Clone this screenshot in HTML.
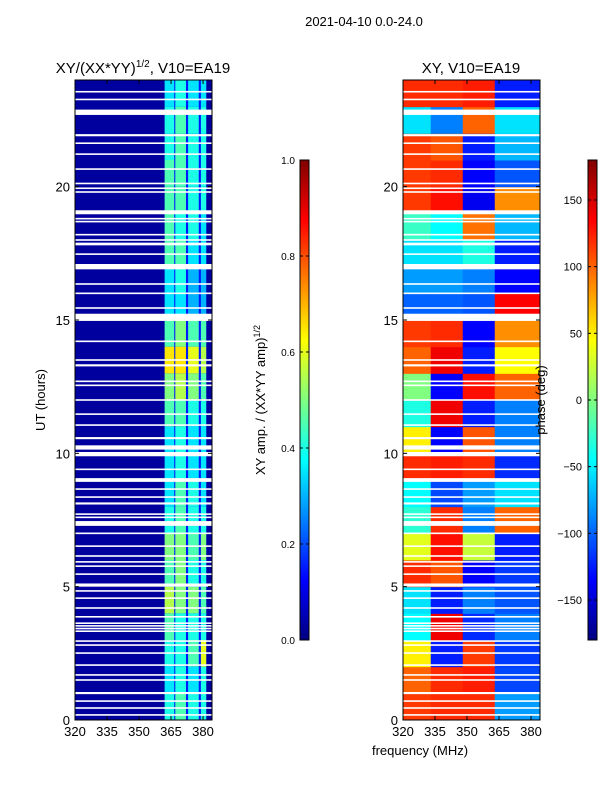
<!DOCTYPE html>
<html><head><meta charset="utf-8">
<style>
body{margin:0;background:#fff;width:600px;height:800px;overflow:hidden;font-family:"Liberation Sans",sans-serif}
svg text{font-family:"Liberation Sans",sans-serif;fill:#000}
</style></head>
<body>
<svg id="fig" width="600" height="800" xmlns="http://www.w3.org/2000/svg">
<text x="364" y="26" font-size="13" text-anchor="middle">2021-04-10 0.0-24.0</text>
<text x="143" y="73" font-size="15" text-anchor="middle">XY/(XX*YY)<tspan font-size="10" dy="-6">1/2</tspan><tspan dy="6">, V10=EA19</tspan></text>
<text x="471" y="73" font-size="15" text-anchor="middle">XY, V10=EA19</text>
<text x="0" y="0" font-size="13" text-anchor="middle" transform="translate(45,400) rotate(-90)">UT (hours)</text>
<text x="420" y="755" font-size="13" text-anchor="middle">frequency (MHz)</text>
<text x="0" y="0" font-size="13" text-anchor="middle" transform="translate(265,400) rotate(-90)">XY amp. / (XX*YY amp)<tspan font-size="9" dy="-5">1/2</tspan></text>
<g id="left"></g>
<g id="right"></g>
<text x="0" y="0" font-size="13" text-anchor="middle" transform="translate(545,400) rotate(-90)">phase (deg)</text>
<g id="axes"></g>
</svg>
<script>
// hour-band data (row i = hours i..i+1)
const hours = [0,1,2,3,4,5,6,7,8,9,10,11,12,13,14,15,16,17,18,19,20,21,22,23];
const phaseBands = [[320,333],[333,348],[348,363],[363,384]];
const phase = [
 [115,120,120,-80],[100,120,125,-110],[50,-125,115,-115],[-45,140,-120,-90],
 [-55,-125,-90,-105],[120,105,-135,-115],[35,130,25,-125],[-30,120,-90,100],
 [-45,-110,-80,-55],[120,125,120,-120],[50,-135,105,-90],[-35,140,-125,-90],
 [0,-135,130,100],[100,140,-125,45],[115,120,-135,85],[-100,-100,-105,135],
 [-80,-80,-90,-135],[-55,-55,-35,-125],[-25,-45,95,-70],[115,130,-140,85],
 [115,120,-135,-105],[115,105,-125,-70],[-55,-90,100,-55],[120,120,125,-125]];
const ampBands = [[320,362],[362,366.5],[367,372],[373,378],[379,381.5]];
const bright = [
 [0.4,0.45,0.4,0.4],[0.35,0.4,0.35,0.4],[0.4,0.4,0.45,0.6],[0.45,0.4,0.4,0.4],
 [0.55,0.5,0.5,0.45],[0.45,0.5,0.4,0.4],[0.5,0.5,0.45,0.5],[0.4,0.45,0.4,0.4],
 [0.35,0.45,0.4,0.35],[0.35,0.4,0.35,0.35],[0.35,0.4,0.35,0.35],[0.45,0.45,0.4,0.4],
 [0.5,0.55,0.5,0.45],[0.65,0.65,0.6,0.55],[0.45,0.5,0.45,0.45],[0.35,0.35,0.3,0.3],
 [0.35,0.4,0.3,0.3],[0.45,0.45,0.35,0.35],[0.45,0.4,0.4,0.35],[0.45,0.45,0.4,0.4],
 [0.45,0.45,0.4,0.4],[0.4,0.45,0.4,0.4],[0.4,0.45,0.4,0.4],[0.35,0.4,0.35,0.35]];
const ampBg = 0.03;
const ampSep = 0.15;
const gapHours = [0.19,0.45,0.71,1.01,1.5,1.69,2.06,2.51,2.81,2.96,3.33,3.43,3.53,3.63,3.87,4.2,4.57,4.84,5.06,5.47,5.77,5.93,6.15,6.52,7.0,7.37,7.6,7.72,8.12,8.36,8.66,9.0,9.4,9.97,10.22,10.57,11.06,11.47,12.0,12.55,12.7,13.3,13.5,14.2,15.1,15.45,16.0,16.35,17.0,17.47,17.85,18.0,18.2,18.69,18.8,19.04,19.8,19.94,20.12,20.66,21.22,21.63,21.93,22.79,23.27,23.56];
const gapWidths = [0.06,0.06,0.06,0.08,0.06,0.06,0.06,0.06,0.06,0.06,0.06,0.06,0.06,0.06,0.06,0.06,0.06,0.06,0.12,0.06,0.06,0.06,0.06,0.06,0.06,0.18,0.06,0.06,0.08,0.06,0.06,0.14,0.06,0.16,0.16,0.08,0.06,0.06,0.06,0.06,0.06,0.08,0.06,0.06,0.27,0.06,0.06,0.06,0.2,0.06,0.1,0.06,0.06,0.06,0.06,0.15,0.06,0.06,0.06,0.06,0.06,0.06,0.08,0.2,0.06,0.06];
const xTicks = [320,335,350,365,380];
const yTicks = [0,5,10,15,20];
const ampTicks = [0.0,0.2,0.4,0.6,0.8,1.0];
const phaseTicks = [150,100,50,0,-50,-100,-150];

const NS='http://www.w3.org/2000/svg';
const PT=80,PB=720,FMIN=320,FMAX=384.2;
function yS(h){return PB-(h/24)*(PB-PT);}
function xS(x0,f){return x0+(f-FMIN)/(FMAX-FMIN)*137;}
function jet(v){v=Math.max(0,Math.min(1,v));
 const r=Math.max(0,Math.min(1,1.5-Math.abs(4*v-3))),g=Math.max(0,Math.min(1,1.5-Math.abs(4*v-2))),b=Math.max(0,Math.min(1,1.5-Math.abs(4*v-1)));
 return `rgb(${Math.round(r*255)},${Math.round(g*255)},${Math.round(b*255)})`;}
function mk(t,a,p){const e=document.createElementNS(NS,t);for(const k in a)e.setAttribute(k,a[k]);(p||document.getElementById('fig')).appendChild(e);return e;}

const L=document.getElementById('left'),R=document.getElementById('right'),A=document.getElementById('axes');
const bgL=mk('rect',{x:75,y:PT,width:137,height:PB-PT,fill:jet(ampBg)},L);


const sepL=mk('rect',{x:xS(75,362),y:PT,width:xS(75,381.5)-xS(75,362),height:PB-PT,fill:jet(ampSep)},L);


hours.forEach((h,i)=>{
 ampBands.forEach((b,j)=>{
  const v = j===0?ampBg:bright[i][j-1];
  const r=mk('rect',{x:xS(75,b[0]),y:yS(h+1),width:xS(75,b[1])-xS(75,b[0]),height:yS(h)-yS(h+1),fill:jet(v)},L);
  
  
 });
 phaseBands.forEach((b,j)=>{
  const r=mk('rect',{x:xS(403,b[0]),y:yS(h+1),width:xS(403,b[1])-xS(403,b[0])+0.5,height:yS(h)-yS(h+1)+0.5,fill:jet((phase[i][j]+180)/360)},R);
  
  
 });
});
gapHours.forEach((g,i)=>{
 [75,403].forEach(x0=>{
  const r=mk('rect',{x:x0,y:yS(g+gapWidths[i]/2),width:137,height:Math.max(1.5,yS(g-gapWidths[i]/2)-yS(g+gapWidths[i]/2)),fill:'#fff'},x0===75?L:R);
  
  
 });
});
[75,403].forEach(x0=>{
 const f=mk('rect',{x:x0,y:PT,width:137,height:PB-PT,fill:'none',stroke:'#000','stroke-width':1},A);
 
 
 xTicks.forEach(t=>{
  const x=xS(x0,t);
  mk('line',{x1:x,x2:x,y1:PB,y2:PB-4,stroke:'#000'},A);
  mk('line',{x1:x,x2:x,y1:PT,y2:PT+4,stroke:'#000'},A);
  const tx=mk('text',{x:x,y:PB+16,'font-size':13,'text-anchor':'middle'},A);tx.textContent=t;
  
  
 });
 yTicks.forEach(t=>{
  const y=yS(t);
  mk('line',{x1:x0,x2:x0+4,y1:y,y2:y,stroke:'#000'},A);
  mk('line',{x1:x0+137,x2:x0+133,y1:y,y2:y,stroke:'#000'},A);
  const tx=mk('text',{x:x0-5,y:y+5,'font-size':13,'text-anchor':'end'},A);tx.textContent=t;
  
  
 });
});
const defs=mk('defs',{},A);const gr=mk('linearGradient',{id:'jg',x1:0,y1:1,x2:0,y2:0},defs);
for(let i=0;i<=8;i++)mk('stop',{offset:i/8,'stop-color':jet(i/8)},gr);
[[300,'amp-colorbar'],[588,'phase-colorbar']].forEach(([x,n])=>{
 const c=mk('rect',{x:x,y:160,width:9,height:480,fill:'url(#jg)',stroke:'#000','stroke-width':1},A);
 
 
});
ampTicks.forEach(t=>{const y=640-t*480;
 mk('line',{x1:300,x2:303,y1:y,y2:y,stroke:'#000'},A);mk('line',{x1:309,x2:306,y1:y,y2:y,stroke:'#000'},A);
 const tx=mk('text',{x:295,y:y+4,'font-size':10,'text-anchor':'end'},A);tx.textContent=t.toFixed(1);
 
 });
phaseTicks.forEach(t=>{const y=640-(t+180)/360*480;
 mk('line',{x1:588,x2:591,y1:y,y2:y,stroke:'#000'},A);mk('line',{x1:597,x2:594,y1:y,y2:y,stroke:'#000'},A);
 const tx=mk('text',{x:582,y:y+4,'font-size':11,'text-anchor':'end'},A);tx.textContent=t<0?'\u2212'+(-t):t;
 
 });
</script>
</body></html>
